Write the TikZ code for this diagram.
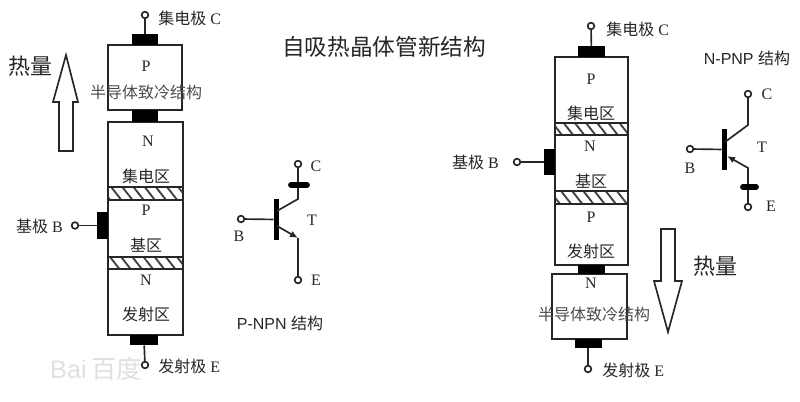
\documentclass[tikz,border=0pt]{standalone}
\usepackage{fontspec}
\setmainfont{Liberation Serif}
\setsansfont{Liberation Sans}
\newfontfamily\cjk{Noto Sans CJK SC}
\usetikzlibrary{arrows.meta, patterns.meta}
\tikzset{
  boxsize/.style 2 args={minimum width=#1*0.75pt, minimum height=#2*0.75pt},
  cell/.style={draw=black!85, line width=1.25pt, inner sep=0pt, outer sep=0pt},
  contact/.style={fill=black, inner sep=0pt, outer sep=0pt},
  hatchband/.style={draw=black!85, line width=1.25pt, inner sep=0pt, outer sep=0pt,
    pattern={Lines[angle=-52, distance=6.6pt, line width=1.4pt]}, pattern color=black!75},
  terminal/.style={circle, draw=black!85, fill=white, line width=1.25pt, inner sep=0pt, minimum size=5pt},
  wire/.style={draw=black!85, line width=1.25pt},
  label/.style={inner sep=0pt, text=black!85, font=\fontsize{12pt}{14pt}\selectfont},
  zh/.style={inner sep=0pt, text=black!85, font=\fontsize{12pt}{14pt}\selectfont\cjk},
  heat/.style={inner sep=0pt, text=black!85, font=\fontsize{16.5pt}{18pt}\selectfont\cjk},
  bigbar/.style={fill=black, inner sep=0pt, outer sep=0pt},
  heatarrow/.style={draw=black!85, line width=1.25pt, fill=white, line join=miter},
}
\begin{document}
\begin{tikzpicture}[x=0.75pt, y=-0.75pt]
\useasboundingbox (0,0) rectangle (800,402);

\node[heat, font=\fontsize{17pt}{19pt}\selectfont\cjk] (title) at (384,47) {自吸热晶体管新结构};
\node[inner sep=0pt, text=black!12, font=\fontsize{19pt}{21pt}\sffamily] (mark) at (96,369) {Bai\,{\cjk 百度}};

% left stack
\node[cell, boxsize={74}{65}] (lp) at (145,77.5) {};
\node[cell, boxsize={75}{213}] (ln) at (145.5,228.5) {};
\node[hatchband, boxsize={75}{13}] (lh1) at (145.5,193.5) {};
\node[hatchband, boxsize={75}{12}] (lh2) at (145.5,263) {};
\node[contact, boxsize={26}{11}] (lct) at (145,39.5) {};
\node[contact, boxsize={26}{12}] (lcm) at (145,116) {};
\node[contact, boxsize={28}{10}] (lcb) at (144,340.5) {};
\node[contact, boxsize={11}{27}] (lcl) at (102.5,225.5) {};
\node[terminal] (tlc) at (145,15) {};
\node[terminal] (tle) at (145,365) {};
\node[terminal] (tlb) at (75,225.5) {};
\draw[wire] (tlc) -- (lct);
\draw[wire] (tle) -- (lcb);
\draw[wire] (tlb) -- (lcl);

\node[label] at (146,66) {P};
\node[zh, text=black!70] (lcool) at (146,92) {半导体致冷结构};
\node[label] at (148,141) {N};
\node[zh] at (146,176) {集电区};
\node[label] at (146,210) {P};
\node[zh] at (146,245) {基区};
\node[label] at (146,280) {N};
\node[zh] at (146,314) {发射区};
\node[label, anchor=west] (llc) at (158,18) {{\cjk 集电极} C};
\node[label, anchor=west] (lle) at (158,366) {{\cjk 发射极} E};
\node[label, anchor=east] (llb) at (63,226) {{\cjk 基极} B};

\draw[heatarrow] (59,151) -- (59,102) -- (53,102) -- (66,55) -- (78,102) -- (73,102) -- (73,151) -- cycle;
\node[heat] (lheat) at (30,66) {热量};

% left transistor
\node[bigbar, boxsize={5}{41}] (lbar) at (276,219.5) {};
\node[terminal] (tc1) at (298,164) {};
\node[terminal] (tb1) at (241,219) {};
\node[terminal] (te1) at (298,280) {};
\coordinate (kc1) at (298,199);
\coordinate (ke1) at (298,238);
\draw[wire] (tb1) -- (lbar);
\draw[wire] (tc1) -- (kc1) -- (277,211);
\draw[wire, -{Latex[length=6pt, width=5pt]}] (277,226) -- (ke1);
\draw[wire] (ke1) -- (te1);
\draw[line width=4.4pt, line cap=round] (291,185) -- (307,185);
\node[label] at (316,166) {C};
\node[label] at (239,236) {B};
\node[label] at (312,220) {T};
\node[label] at (316,280) {E};
\node[label] (lname) at (280,323) {\sffamily P-NPN {\cjk 结构}};

% right stack
\node[cell, boxsize={73}{208}] (rp) at (591.5,161) {};
\node[hatchband, boxsize={73}{12}] (rh1) at (591.5,129) {};
\node[hatchband, boxsize={73}{13}] (rh2) at (591.5,197.5) {};
\node[cell, boxsize={75}{65}] (rn) at (589.5,306.5) {};
\node[contact, boxsize={27}{11}] (rct) at (591.5,51.5) {};
\node[contact, boxsize={27}{9}] (rcm) at (591.5,269.5) {};
\node[contact, boxsize={27}{9}] (rcb) at (588,344) {};
\node[contact, boxsize={11}{26}] (rcl) at (549.5,162) {};
\node[terminal] (trc) at (591,26) {};
\node[terminal] (tre) at (588,369) {};
\node[terminal] (trb) at (517,162) {};
\draw[wire] (trc) -- (rct);
\draw[wire] (tre) -- (rcb);
\draw[wire] (trb) -- (rcl);

\node[label] at (591,79) {P};
\node[zh] at (591,113) {集电区};
\node[label] at (590,146) {N};
\node[zh] at (591,181) {基区};
\node[label] at (591,217) {P};
\node[zh] at (591,251) {发射区};
\node[label] at (591,283) {N};
\node[zh, text=black!70] (rcool) at (594,314) {半导体致冷结构};
\node[label, anchor=west] (rlc) at (606,29) {{\cjk 集电极} C};
\node[label, anchor=west] (rle) at (602,370) {{\cjk 发射极} E};
\node[label, anchor=east] (rlb) at (499,162) {{\cjk 基极} B};

\draw[heatarrow] (661,229) -- (661,281) -- (654,281) -- (668,332) -- (682,281) -- (675,281) -- (675,229) -- cycle;
\node[heat] (rheat) at (715,266) {热量};

% right transistor
\node[bigbar, boxsize={5}{41}] (rbar) at (724,149.5) {};
\node[terminal] (tc2) at (748,94) {};
\node[terminal] (tb2) at (690,149) {};
\node[terminal] (te2) at (748,207) {};
\coordinate (kc2) at (748,125);
\coordinate (ke2) at (748,168);
\draw[wire] (tb2) -- (rbar);
\draw[wire] (tc2) -- (kc2) -- (725,142);
\draw[wire, -{Latex[length=6pt, width=5pt]}] (te2) -- (ke2) -- (727,156);
\draw[line width=4.4pt, line cap=round] (743,187) -- (756,187);
\node[label] at (767,94) {C};
\node[label] at (690,168) {B};
\node[label] at (762,147) {T};
\node[label] at (771,206) {E};
\node[label] (rname) at (747,58) {\sffamily N-PNP {\cjk 结构}};
\end{tikzpicture}
\end{document}
